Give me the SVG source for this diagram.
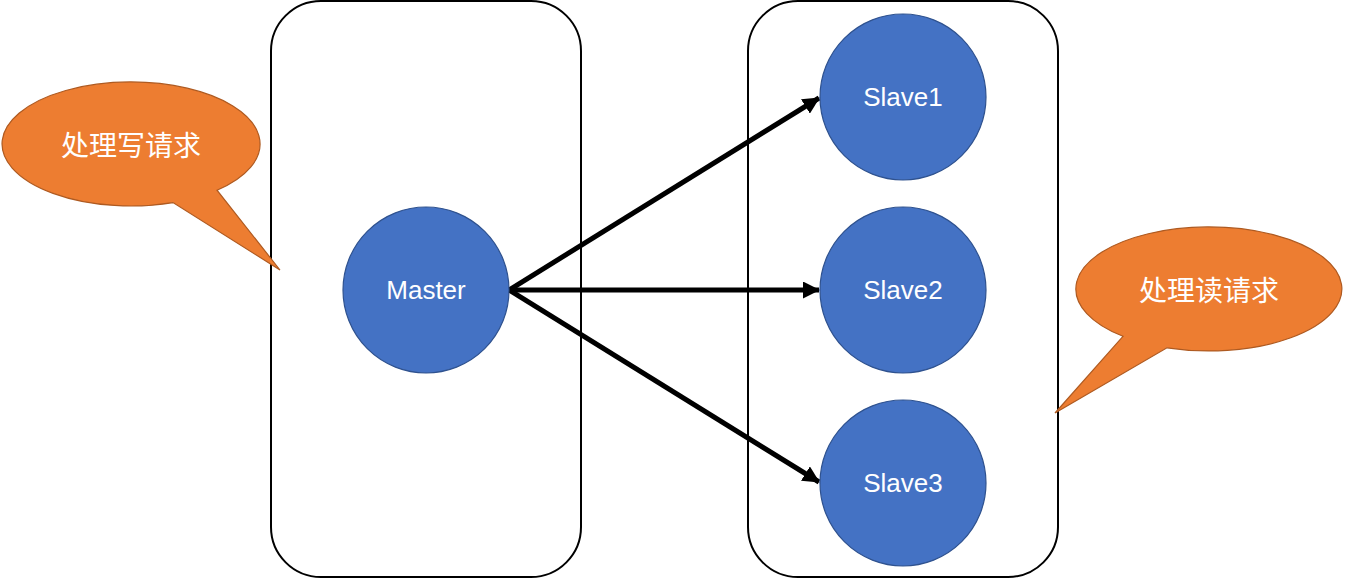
<svg xmlns="http://www.w3.org/2000/svg" width="1345" height="579" viewBox="0 0 1345 579">
<style>
.box{fill:#fff;stroke:#000;stroke-width:2}
.node{fill:#4472C4;stroke:#2F528F;stroke-width:1.2}
.nt{fill:#fff;font-family:"Liberation Sans",Arial,sans-serif;font-size:26px;text-anchor:middle;dominant-baseline:central}
.call{fill:#ED7D31;stroke:#AE5A21;stroke-width:1.2}
.ct{fill:#fff;font-family:"Noto Sans CJK SC",sans-serif;font-size:28px;text-anchor:middle;dominant-baseline:central}
.edge{stroke:#000;stroke-width:5;fill:none;marker-end:url(#ah)}
</style>
<defs>
<marker id="ah" markerWidth="3.4" markerHeight="3.4" refX="3.2" refY="1.7" orient="auto" markerUnits="strokeWidth">
<path d="M0,0 L3.4,1.7 L0,3.4 Z" fill="#000"/>
</marker>
</defs>
<rect width="1345" height="579" fill="#fff"/>
<g id="box-left"><rect class="box" x="271" y="1" width="310" height="576" rx="50"/></g>
<g id="box-right"><rect class="box" x="748" y="1" width="310" height="576" rx="50"/></g>
<g id="connectors">
<line class="edge" x1="509" y1="290" x2="819" y2="98"/>
<line class="edge" x1="509" y1="290" x2="819" y2="290"/>
<line class="edge" x1="509" y1="290" x2="819" y2="482"/>
</g>
<g id="master"><circle class="node" cx="426" cy="290" r="83"/><text class="nt" x="426" y="290">Master</text></g>
<g id="slave1"><circle class="node" cx="903" cy="97" r="83"/><text class="nt" x="903" y="97">Slave1</text></g>
<g id="slave2"><circle class="node" cx="903" cy="290" r="83"/><text class="nt" x="903" y="290">Slave2</text></g>
<g id="slave3"><circle class="node" cx="903" cy="483" r="83"/><text class="nt" x="903" y="483">Slave3</text></g>
<g id="callout-write">
<path class="call" d="M173,202.6 A129,62 0 1 1 217,190.2 L280,270 Z"/>
<text class="ct" x="131" y="144">处理写请求</text>
</g>
<g id="callout-read">
<path class="call" d="M1123,336.3 A133,62 0 1 1 1167,347.8 L1055,413 Z"/>
<text class="ct" x="1209" y="289">处理读请求</text>
</g>
</svg>
